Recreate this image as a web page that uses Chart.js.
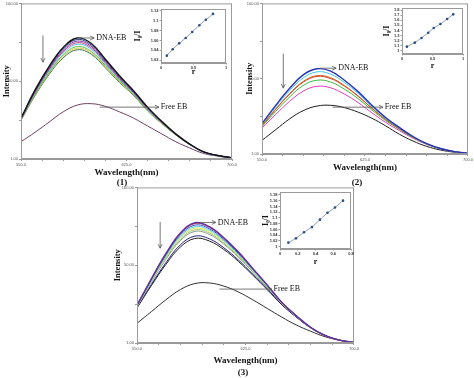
<!DOCTYPE html>
<html>
<head>
<meta charset="utf-8">
<script src="https://cdn.jsdelivr.net/npm/chart.js@4.4.1/dist/chart.umd.min.js"></script>
<style>
body { margin: 0; background: #fff; width: 474px; height: 378px; overflow: hidden; position: relative; }
.box { position: absolute; }
.cap { position: absolute; font: bold 9px "Liberation Serif", serif; color: #111; transform: translate(-50%, -50%); }
</style>
</head>
<body>
<div class="box" style="left:0;top:0;width:240px;height:180px"><canvas id="main1"></canvas></div>
<div class="box" style="left:240px;top:0;width:234px;height:175px"><canvas id="main2"></canvas></div>
<div class="box" style="left:110px;top:184px;width:250px;height:184px"><canvas id="main3"></canvas></div>
<div class="box" style="left:130px;top:4px;width:102px;height:74px"><canvas id="inset1"></canvas></div>
<div class="box" style="left:379px;top:3px;width:95px;height:69px"><canvas id="inset2"></canvas></div>
<div class="box" style="left:258px;top:187px;width:98px;height:81px"><canvas id="inset3"></canvas></div>
<div class="cap" style="left:122px;top:182px">(1)</div>
<div class="cap" style="left:357px;top:182px">(2)</div>
<div class="cap" style="left:243px;top:372px">(3)</div>
<script>
// emission spectra, wavelength in nm
const wavelengths = [550, 560, 570, 580, 590, 600, 610, 620, 630, 640, 650, 660, 670, 680, 690, 700];
const xTickValues = [550, 565, 580, 595, 610, 625, 640, 655, 670, 685, 700];
const xTickLabels = ['550.0', '', '', '', '', '625.0', '', '', '', '', '700.0'];
const yTickValues = [1, 25.75, 50.5, 75.25, 100];
const yTickLabels = ['1.00', '', '50.00', '', '100.00'];

// panel (1): DNA-EB curves from top to bottom, then free EB
const panel1Curves = [
    [27, 45, 60, 72, 78, 74.5, 64.5, 54, 44.5, 34, 25, 17, 10.5, 5.5, 3.2, 1.8],
    [26.8, 44.5, 59.3, 71, 77, 73.5, 63.7, 53.4, 44, 33.7, 24.8, 16.9, 10.4, 5.5, 3.2, 1.8],
    [26.6, 44, 58.6, 70.2, 76, 72.6, 63, 52.8, 43.6, 33.3, 24.6, 16.8, 10.4, 5.4, 3.2, 1.8],
    [26.4, 43.5, 58, 69.3, 75, 71.7, 62.2, 52.2, 43.2, 33, 24.4, 16.7, 10.3, 5.4, 3.2, 1.8],
    [26.2, 43, 57.2, 68.4, 74, 70.8, 61.4, 51.6, 42.8, 32.6, 24.2, 16.6, 10.3, 5.4, 3.1, 1.8],
    [26, 42.3, 56.2, 67.2, 72.5, 69.4, 60.4, 50.8, 42.3, 32.2, 23.9, 16.5, 10.2, 5.4, 3.1, 1.8],
    [25.8, 41.8, 55.5, 66.3, 71.5, 68.5, 59.7, 50.2, 41.9, 31.9, 23.7, 16.4, 10.2, 5.4, 3.1, 1.8],
    [25.6, 41.3, 54.8, 65.4, 70.5, 67.6, 59, 49.7, 41.5, 31.6, 23.6, 16.3, 10.1, 5.3, 3.1, 1.8],
    [12, 18, 24.5, 31, 35.3, 36.2, 34.5, 31, 27, 22, 17, 12, 8, 4.5, 2.8, 1.5]
];
const panel1Colors = ['#151515', '#2b3a9a', '#7b3598', '#c83c84', '#3cbfe0', '#5cb84a', '#d4cc3a', '#3f6f55', '#6d3f62'];

// panel (2)
const panel2Curves = [
    [21, 33, 44, 53, 57, 55.5, 49.5, 42, 33, 25, 18.5, 12.5, 7.8, 4.6, 2.6, 1.4],
    [20.5, 32, 42.5, 51, 55, 53.5, 48, 40.8, 32.2, 24.5, 18.1, 12.3, 7.7, 4.6, 2.6, 1.4],
    [19.8, 30.6, 40.6, 48.7, 52.5, 51.1, 46, 39.2, 31.2, 23.8, 17.7, 12.1, 7.6, 4.5, 2.6, 1.4],
    [19.6, 30.3, 40.2, 48.2, 52, 50.6, 45.6, 38.9, 31, 23.7, 17.6, 12, 7.6, 4.5, 2.6, 1.4],
    [19, 29, 38.4, 46, 49.5, 48.3, 43.6, 37.4, 29.9, 23, 17.2, 11.8, 7.5, 4.5, 2.6, 1.4],
    [18, 27, 35.5, 42.3, 45.5, 44.5, 40.4, 34.8, 28.1, 21.8, 16.4, 11.4, 7.3, 4.4, 2.5, 1.4],
    [10, 17, 24, 29.5, 32.5, 33, 31.5, 28.5, 24.5, 19.5, 14, 9.5, 6, 3.6, 2.2, 1.3]
];
const panel2Colors = ['#2633b8', '#3fc6e6', '#c8641e', '#d83a2a', '#3cb83c', '#e03cc0', '#1e1e1e'];

// panel (3)
const panel3Curves = [
    [25, 42, 58, 71, 77.5, 75, 68, 59, 48.5, 38, 27, 18.5, 11, 5.8, 2.8, 1.3],
    [24.9, 41.8, 57.7, 70.6, 77, 74.6, 67.6, 58.7, 48.3, 37.9, 26.9, 18.5, 11, 5.8, 2.8, 1.3],
    [24.7, 41.4, 57.1, 69.8, 76, 73.7, 66.9, 58.1, 47.9, 37.6, 26.8, 18.4, 11, 5.8, 2.8, 1.3],
    [24.5, 41, 56.4, 68.9, 75, 72.8, 66.1, 57.5, 47.4, 37.3, 26.6, 18.3, 10.9, 5.8, 2.8, 1.3],
    [24.3, 40.5, 55.7, 68, 74, 71.9, 65.4, 56.9, 47, 37, 26.5, 18.2, 10.9, 5.8, 2.8, 1.3],
    [24.1, 40.1, 55, 67.1, 73, 71, 64.6, 56.3, 46.6, 36.7, 26.3, 18.1, 10.8, 5.7, 2.8, 1.3],
    [24, 39.7, 54.3, 66.2, 72, 70.1, 63.9, 55.7, 46.1, 36.4, 26.2, 18, 10.8, 5.7, 2.8, 1.3],
    [23.6, 38.3, 52.1, 63.5, 69, 67.3, 61.6, 53.9, 44.8, 35.5, 25.7, 17.7, 10.7, 5.7, 2.8, 1.3],
    [23.3, 37.6, 51, 62.1, 67.5, 65.9, 60.5, 53, 44.2, 35, 25.4, 17.6, 10.6, 5.7, 2.8, 1.3],
    [13.5, 21, 28.5, 35, 38.8, 39.2, 37.2, 33.5, 28.5, 23, 17.5, 12.5, 8.5, 5, 2.8, 1.5]
];
const panel3Colors = ['#6030a0', '#d03030', '#3050d0', '#50d0e0', '#e0e050', '#90d070', '#909090', '#202080', '#202020', '#303030'];

// insets: I0/I against r
const inset1R = [0.09, 0.18, 0.28, 0.38, 0.48, 0.59, 0.69, 0.8];
const inset1Ratio = [1.029, 1.042, 1.054, 1.065, 1.077, 1.091, 1.102, 1.114];
const inset1YTicks = [1.02, 1.04, 1.06, 1.08, 1.1, 1.12];
const inset1XTicks = [0, 0.5, 1];

const inset2R = [0.08, 0.21, 0.32, 0.43, 0.52, 0.63, 0.74, 0.84];
const inset2Ratio = [1.084, 1.162, 1.254, 1.357, 1.449, 1.527, 1.624, 1.716];
const inset2YTicks = [1, 1.1, 1.2, 1.3, 1.4, 1.5, 1.6, 1.7, 1.8];
const inset2XTicks = [0, 0.5, 1];

const inset3R = [0.094, 0.18, 0.27, 0.36, 0.45, 0.535, 0.62, 0.71];
const inset3Ratio = [1.014, 1.029, 1.05, 1.068, 1.094, 1.118, 1.136, 1.16];
const inset3YTicks = [1, 1.02, 1.04, 1.06, 1.08, 1.1, 1.12, 1.14, 1.16, 1.18];
const inset3XTicks = [0, 0.2, 0.4, 0.6, 0.8];

const frame = {
    id: 'frame',
    afterDraw(chart) {
        const { ctx, chartArea: a } = chart;
        ctx.save();
        ctx.strokeStyle = '#9a9a9a';
        ctx.lineWidth = 1;
        ctx.strokeRect(a.left + 0.5, a.top + 0.5, a.right - a.left - 1, a.bottom - a.top - 1);
        ctx.restore();
    }
};

function arrowHead(ctx, x, y, dx, dy) {
    ctx.beginPath();
    ctx.moveTo(x, y);
    ctx.lineTo(x - dx * 4 - dy * 2, y - dy * 4 - dx * 2);
    ctx.moveTo(x, y);
    ctx.lineTo(x - dx * 4 + dy * 2, y - dy * 4 + dx * 2);
    ctx.stroke();
}

// labels with arrows, anchored in data units
function notesPlugin(notes) {
    return {
        id: 'notes',
        afterDatasetsDraw(chart) {
            const { ctx, scales: { x, y } } = chart;
            ctx.save();
            ctx.strokeStyle = '#555';
            ctx.lineWidth = 0.8;
            ctx.fillStyle = '#111';
            ctx.font = '8px "Liberation Serif"';
            ctx.textBaseline = 'middle';
            notes.labels.forEach(n => {
                const x1 = x.getPixelForValue(n.from[0]);
                const y1 = y.getPixelForValue(n.from[1]);
                const x2 = x.getPixelForValue(n.to);
                ctx.beginPath();
                ctx.moveTo(x1, y1);
                ctx.lineTo(x2, y1);
                ctx.stroke();
                arrowHead(ctx, x2, y1, 1, 0);
                ctx.fillText(n.text, x2 + 2, y1);
            });
            const d = notes.down;
            const dx = x.getPixelForValue(d[0]);
            const dy1 = y.getPixelForValue(d[1]);
            const dy2 = y.getPixelForValue(d[2]);
            ctx.beginPath();
            ctx.moveTo(dx, dy1);
            ctx.lineTo(dx, dy2);
            ctx.stroke();
            arrowHead(ctx, dx, dy2, 0, 1);
            ctx.restore();
        }
    };
}

function buildSpectrum(id, curves, colors, notes, yWidth, xHeight, pad, yTitlePad) {
    const datasets = curves.map((vals, i) => ({
        data: vals.map((v, k) => ({ x: wavelengths[k], y: v })),
        borderColor: colors[i],
        borderWidth: i === 0 ? 1.4 : 1,
        pointRadius: 0,
        tension: 0.4,
        fill: false
    }));
    new Chart(document.getElementById(id), {
        type: 'line',
        data: { datasets },
        options: {
            responsive: true,
            maintainAspectRatio: false,
            animation: false,
            layout: { padding: pad },
            plugins: { legend: { display: false }, tooltip: { enabled: false } },
            scales: {
                x: {
                    type: 'linear', min: 550, max: 700,
                    afterBuildTicks: s => { s.ticks = xTickValues.map(v => ({ value: v })); },
                    afterFit: s => { s.height = xHeight; },
                    ticks: { callback: (v, i) => xTickLabels[i], font: { size: 4 }, color: '#555', maxRotation: 0, autoSkip: false, padding: 1 },
                    grid: { drawOnChartArea: false, tickLength: 2, color: '#999' },
                    border: { color: '#999' },
                    title: { display: true, text: 'Wavelength(nm)', color: '#111', font: { family: 'Liberation Serif', size: 9, weight: 'bold' }, padding: { top: 0, bottom: 2 } }
                },
                y: {
                    min: 1, max: 100,
                    afterBuildTicks: s => { s.ticks = yTickValues.map(v => ({ value: v })); },
                    afterFit: s => { s.width = yWidth; },
                    ticks: { callback: (v, i) => yTickLabels[i], font: { size: 4 }, color: '#555', padding: 1 },
                    grid: { drawOnChartArea: false, tickLength: 2, color: '#999' },
                    border: { color: '#999' },
                    title: { display: true, text: 'Intensity', color: '#111', font: { family: 'Liberation Serif', size: 8.5, weight: 'bold' }, padding: { top: yTitlePad, bottom: 0 } }
                }
            }
        },
        plugins: [frame, notesPlugin(notes)]
    });
}

function buildInset(id, r, ratio, xTicks, yTicks, xRange, yRange, yWidth, xHeight, pad) {
    new Chart(document.getElementById(id), {
        type: 'line',
        data: {
            datasets: [{
                data: r.map((v, k) => ({ x: v, y: ratio[k] })),
                borderColor: '#8fa3b5',
                borderWidth: 1,
                pointRadius: 1.3,
                pointBackgroundColor: '#2b4a8a',
                pointBorderColor: '#2b4a8a',
                pointBorderWidth: 0
            }]
        },
        options: {
            responsive: true,
            maintainAspectRatio: false,
            animation: false,
            layout: { padding: pad },
            plugins: { legend: { display: false }, tooltip: { enabled: false } },
            scales: {
                x: {
                    type: 'linear', min: xRange[0], max: xRange[1],
                    afterBuildTicks: s => { s.ticks = xTicks.map(v => ({ value: v })); },
                    afterFit: s => { s.height = xHeight; },
                    ticks: { callback: v => String(+v.toFixed(2)), font: { size: 4, weight: 'bold' }, color: '#333', maxRotation: 0, autoSkip: false, padding: 1 },
                    grid: { drawOnChartArea: false, tickLength: 1.5, color: '#999' },
                    border: { color: '#999' },
                    title: { display: true, text: 'r', color: '#111', font: { family: 'Liberation Serif', size: 8, weight: 'bold' }, padding: { top: 0, bottom: 1 } }
                },
                y: {
                    min: yRange[0], max: yRange[1],
                    afterBuildTicks: s => { s.ticks = yTicks.map(v => ({ value: v })); },
                    afterFit: s => { s.width = yWidth; },
                    ticks: { callback: v => String(+v.toFixed(2)), font: { size: 4, weight: 'bold' }, color: '#333', padding: 1, autoSkip: false },
                    grid: { drawOnChartArea: false, tickLength: 1.5, color: '#999' },
                    border: { color: '#999' },
                    title: { display: true, text: 'I\u2080/I', color: '#111', font: { family: 'Liberation Serif', size: 8, weight: 'bold' }, padding: { top: 3, bottom: 0 } }
                }
            }
        },
        plugins: [frame]
    });
}

buildSpectrum('main1', panel1Curves, panel1Colors, {
    labels: [
        { text: 'DNA-EB', from: [591, 78], to: 602 },
        { text: 'Free EB', from: [606, 34], to: 648 }
    ],
    down: [565.6, 79.6, 62.6]
}, 21, 21, { top: 3, right: 8 }, 2);

buildSpectrum('main2', panel2Curves, panel2Colors, {
    labels: [
        { text: 'DNA-EB', from: [592, 57.4], to: 604 },
        { text: 'Free EB', from: [601.5, 31.8], to: 638 }
    ],
    down: [565.5, 67, 44.3]
}, 22, 21, { top: 3, right: 5 }, 5);

buildSpectrum('main3', panel3Curves, panel3Colors, {
    labels: [
        { text: 'DNA-EB', from: [593, 77.7], to: 604.5 },
        { text: 'Free EB', from: [607, 35.3], to: 643 }
    ],
    down: [566, 78, 61.3]
}, 27, 25, { top: 3, right: 3 }, 3);

buildInset('inset1', inset1R, inset1Ratio, inset1XTicks, inset1YTicks, [0, 1], [1.014, 1.124], 31, 15, { top: 5, right: 6 });
buildInset('inset2', inset2R, inset2Ratio, inset2XTicks, inset2YTicks, [0, 1], [0.94, 1.84], 23, 18, { top: 5, right: 11 });
buildInset('inset3', inset3R, inset3Ratio, inset3XTicks, inset3YTicks, [0, 0.8], [0.992, 1.19], 22, 19, { top: 5, right: 5 });
</script>
</body>
</html>
